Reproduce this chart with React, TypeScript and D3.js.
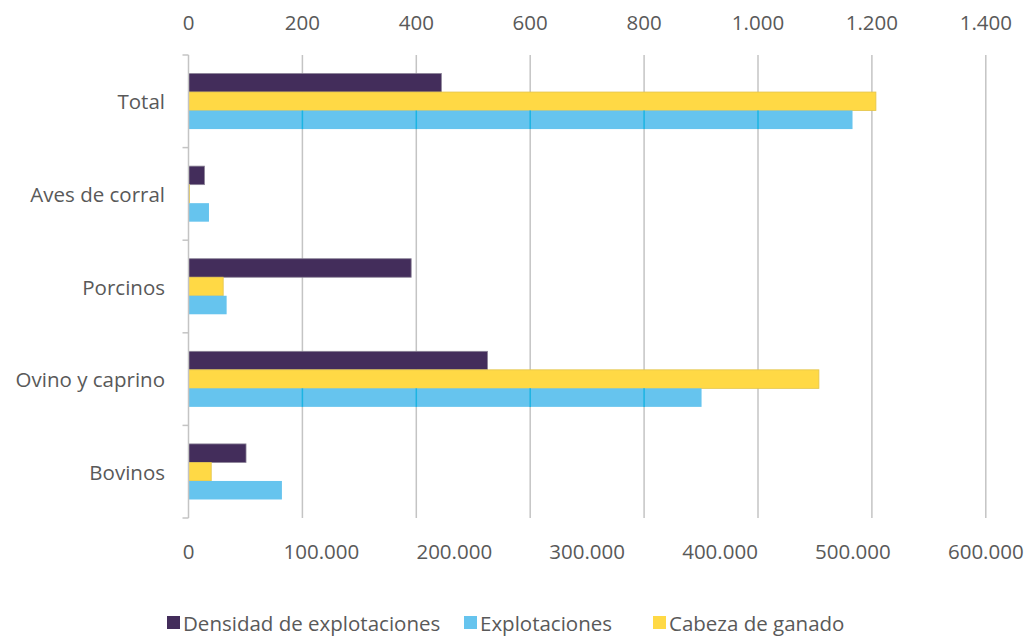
import React, { useRef, useEffect } from 'react';
import * as d3 from 'd3';

const categories = ['Total', 'Aves de corral', 'Porcinos', 'Ovino y caprino', 'Bovinos'];
// densidad de explotaciones (eje superior)
const densidad = [444, 28, 391, 525, 101];
// explotaciones y cabeza de ganado (eje inferior)
const explotaciones = [499700, 15400, 28700, 386100, 70300];
const cabeza = [517300, 600, 26100, 474400, 17100];
const topTicks = [0, 200, 400, 600, 800, 1000, 1200, 1400];
const bottomTicks = [0, 100000, 200000, 300000, 400000, 500000, 600000];
const legendItems = [
  { name: 'Densidad de explotaciones', color: '#432d5b' },
  { name: 'Explotaciones', color: '#66c4ee' },
  { name: 'Cabeza de ganado', color: '#ffd945' },
];

const FONT = "'Open Sans', sans-serif";
const FS = 20.5;

const App = () => {
  const svgRef = useRef<SVGSVGElement>(null);

  useEffect(() => {
    const width = 1026;
    const height = 636;
    const svg = d3.select(svgRef.current);
    svg.selectAll('*').remove();
    svg.attr('width', width).attr('height', height).style('font-family', FONT);

    const left = 188.5, right = 985.8, top = 55, bottom = 518;
    const xTop = d3.scaleLinear().domain([0, 1400]).range([left, right]);
    const xBottom = d3.scaleLinear().domain([0, 600000]).range([left, right]);
    const y = d3.scaleBand().domain(categories).range([top, bottom]).paddingInner(0.4).paddingOuter(0.2);
    const sub = d3.scaleBand().domain(['dens', 'cab', 'exp']).range([0, y.bandwidth()]);

    const fmt = d3.formatLocale({ thousands: '.', decimal: ',', grouping: [3], currency: ['', '€'] }).format(',');

    // gridlines
    svg.append('g').selectAll('line').data(topTicks.slice(1)).join('line')
      .attr('x1', (d) => xTop(d)).attr('x2', (d) => xTop(d))
      .attr('y1', top).attr('y2', bottom)
      .attr('stroke', '#c4c4c4').attr('stroke-width', 1.5);

    // bars
    const rows = categories.map((c, i) => ({ c, dens: densidad[i], cab: cabeza[i], exp: explotaciones[i] }));
    const g = svg.append('g');
    g.selectAll('rect.dens').data(rows).join('rect')
      .attr('x', xTop(0)).attr('y', (d) => y(d.c)! + sub('dens')!)
      .attr('width', (d) => xTop(d.dens) - xTop(0)).attr('height', sub.bandwidth())
      .attr('fill', '#432d5b').attr('stroke', '#8a8296').attr('stroke-width', 0.8);
    g.selectAll('rect.cab').data(rows).join('rect')
      .attr('x', xBottom(0)).attr('y', (d) => y(d.c)! + sub('cab')!)
      .attr('width', (d) => Math.max(1, xBottom(d.cab) - xBottom(0))).attr('height', sub.bandwidth())
      .attr('fill', '#ffd945').attr('stroke', '#e3c44a').attr('stroke-width', 0.8);
    g.selectAll('rect.exp').data(rows).join('rect')
      .attr('x', xBottom(0)).attr('y', (d) => y(d.c)! + sub('exp')!)
      .attr('width', (d) => xBottom(d.exp) - xBottom(0)).attr('height', sub.bandwidth())
      .attr('fill', '#66c4ee');
    // gridlines seen through the blue bars
    rows.forEach((r) => {
      svg.append('g').selectAll('line').data(topTicks.slice(1).filter((t) => xTop(t) < xBottom(r.exp))).join('line')
        .attr('x1', (d) => xTop(d)).attr('x2', (d) => xTop(d))
        .attr('y1', y(r.c)! + sub('exp')!).attr('y2', y(r.c)! + sub('exp')! + sub.bandwidth())
        .attr('stroke', '#1cb4e2').attr('stroke-width', 1.5);
    });

    // left axis with category ticks
    svg.append('line').attr('x1', left).attr('x2', left).attr('y1', top).attr('y2', bottom)
      .attr('stroke', '#c4c4c4').attr('stroke-width', 1.5);
    const step = y.step();
    const bounds = d3.range(categories.length + 1).map((i) => top + i * step);
    svg.append('g').selectAll('line').data(bounds).join('line')
      .attr('x1', left - 6).attr('x2', left).attr('y1', (d) => d).attr('y2', (d) => d)
      .attr('stroke', '#c4c4c4').attr('stroke-width', 1.5);

    // category labels
    svg.append('g').selectAll('text').data(categories).join('text')
      .attr('x', 165).attr('y', (d) => y(d)! + y.bandwidth() / 2)
      .attr('text-anchor', 'end').attr('dominant-baseline', 'central')
      .attr('font-size', FS).attr('fill', '#595959').text((d) => d);

    // top axis labels
    svg.append('g').selectAll('text').data(topTicks).join('text')
      .attr('x', (d) => xTop(d)).attr('y', 22)
      .attr('text-anchor', 'middle').attr('dominant-baseline', 'central')
      .attr('font-size', FS).attr('fill', '#595959').text((d) => fmt(d));

    // bottom axis labels
    svg.append('g').selectAll('text').data(bottomTicks).join('text')
      .attr('x', (d) => xBottom(d)).attr('y', 551)
      .attr('text-anchor', 'middle').attr('dominant-baseline', 'central')
      .attr('font-size', FS).attr('fill', '#595959').text((d) => fmt(d));

    // legend
    const legendX = [167, 464, 653];
    const lg = svg.append('g').selectAll('g').data(legendItems).join('g')
      .attr('transform', (d, i) => `translate(${legendX[i]}, 623)`);
    lg.append('rect').attr('x', 0).attr('y', -7).attr('width', 13).attr('height', 13)
      .attr('fill', (d) => d.color);
    lg.append('text').attr('x', 16).attr('y', 0).attr('dominant-baseline', 'central')
      .attr('font-size', FS).attr('fill', '#595959').text((d) => d.name);
  }, []);

  return (
    <svg ref={svgRef} style={{ position: 'absolute', left: 0, top: 0 }}></svg>
  );
};

export default App;
